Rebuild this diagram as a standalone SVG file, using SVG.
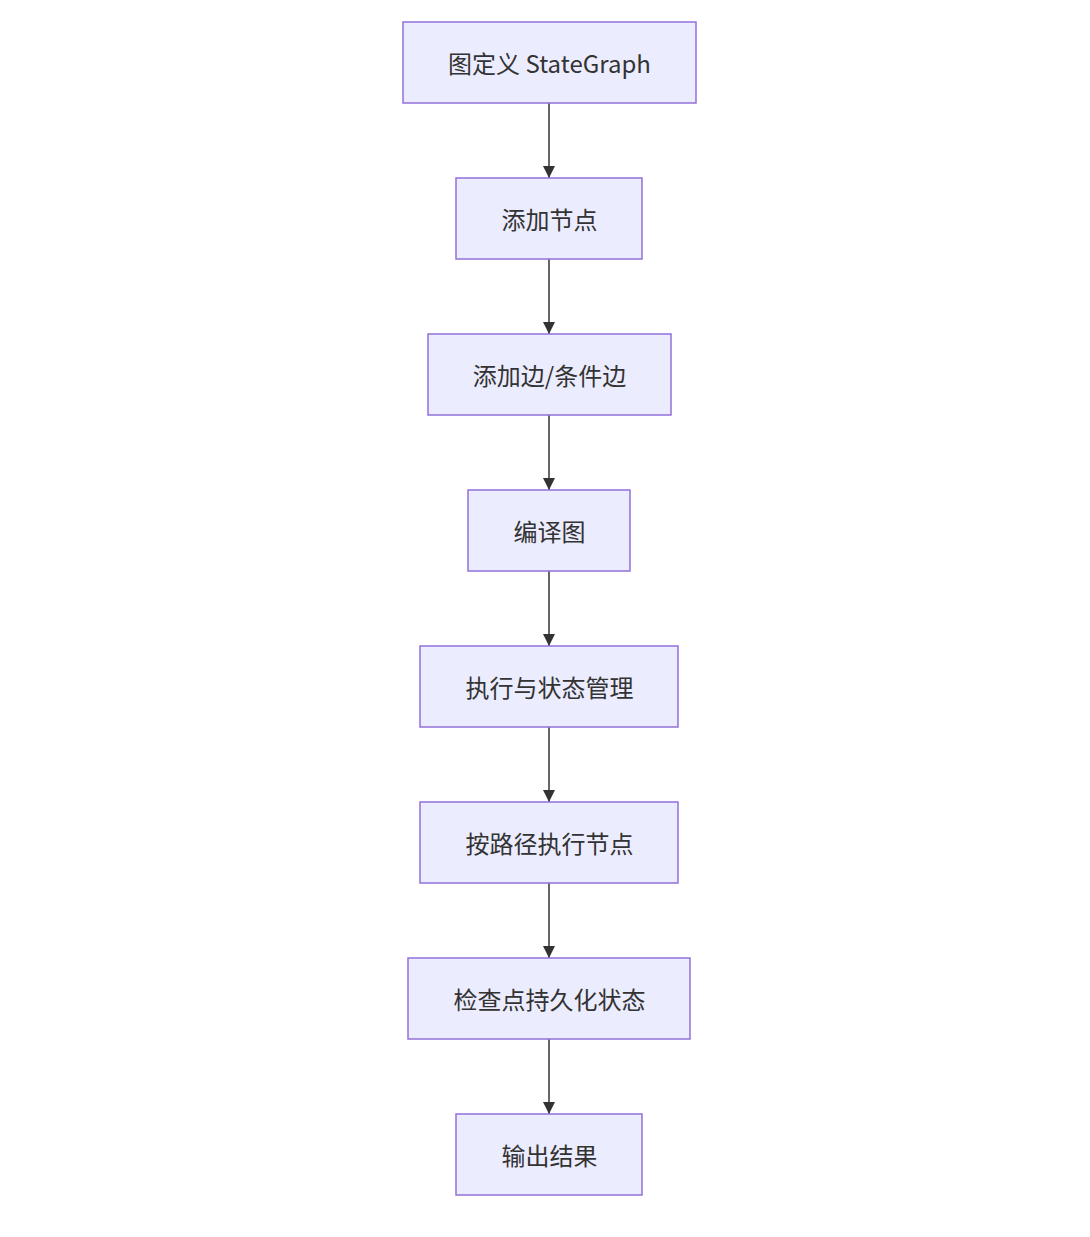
<svg xmlns="http://www.w3.org/2000/svg" width="1090" height="1237" viewBox="0 0 1090 1237">
<style>
.node rect{fill:#ECECFF;stroke:#9370DB;stroke-width:1.5px;}
.node text{font-family:"Noto Sans CJK SC","Noto Sans",sans-serif;font-size:24px;fill:#333333;text-anchor:middle;dominant-baseline:central;}
.edges path{stroke:#333333;stroke-width:1.5px;fill:none;marker-end:url(#arrow);}
</style>
<defs>
<marker id="arrow" viewBox="0 0 10 10" refX="10" refY="5" markerUnits="userSpaceOnUse" markerWidth="12" markerHeight="12" orient="auto">
<path d="M0,0 L10,5 L0,10 z" fill="#333333"/>
</marker>
</defs>
<rect width="1090" height="1237" fill="#ffffff"/>
<g class="edges">
<path d="M549,103 L549,178"/>
<path d="M549,259 L549,334"/>
<path d="M549,415 L549,490"/>
<path d="M549,571 L549,646"/>
<path d="M549,727 L549,802"/>
<path d="M549,883 L549,958"/>
<path d="M549,1039 L549,1114"/>
</g>
<g id="n1" class="node"><rect x="403" y="22" width="293" height="81"/><text x="549.5" y="62.5">图定义 StateGraph</text></g>
<g id="n2" class="node"><rect x="456" y="178" width="186" height="81"/><text x="549.5" y="218.5">添加节点</text></g>
<g id="n3" class="node"><rect x="428" y="334" width="243" height="81"/><text x="549.5" y="374.5">添加边/条件边</text></g>
<g id="n4" class="node"><rect x="468" y="490" width="162" height="81"/><text x="549.5" y="530.5">编译图</text></g>
<g id="n5" class="node"><rect x="420" y="646" width="258" height="81"/><text x="549.5" y="686.5">执行与状态管理</text></g>
<g id="n6" class="node"><rect x="420" y="802" width="258" height="81"/><text x="549.5" y="842.5">按路径执行节点</text></g>
<g id="n7" class="node"><rect x="408" y="958" width="282" height="81"/><text x="549.5" y="998.5">检查点持久化状态</text></g>
<g id="n8" class="node"><rect x="456" y="1114" width="186" height="81"/><text x="549.5" y="1154.5">输出结果</text></g>
</svg>
